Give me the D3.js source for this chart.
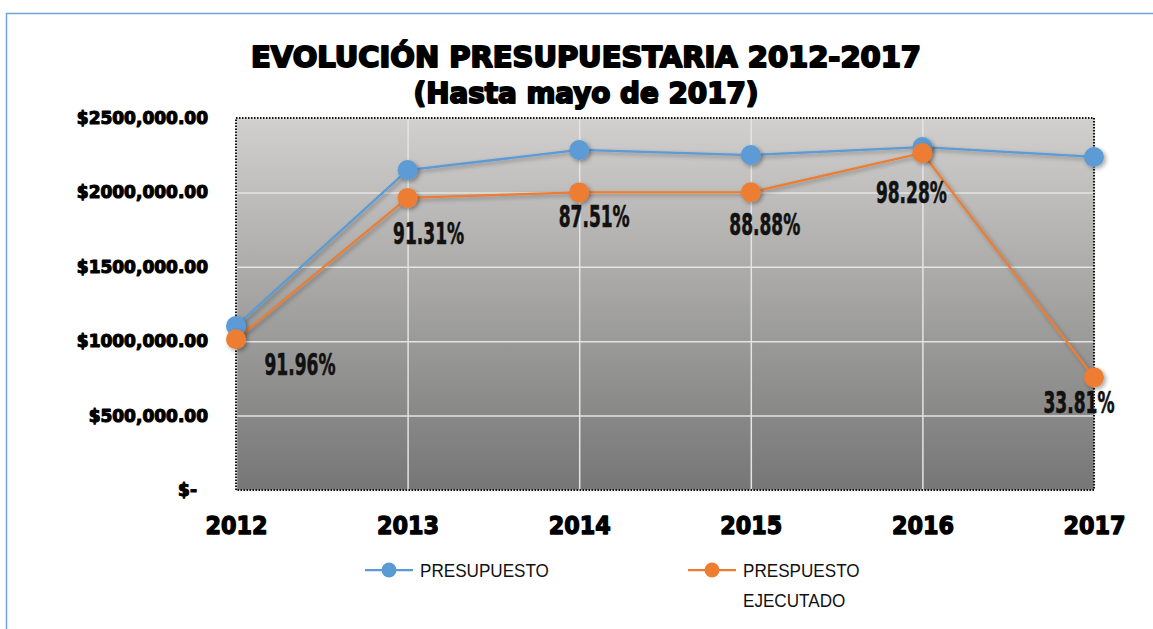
<!DOCTYPE html>
<html lang="es">
<head>
  <meta charset="UTF-8">
  <title>Evolución presupuestaria 2012-2017</title>
  <script src="https://d3js.org/d3.v7.min.js"></script>
  <style>
    body { margin: 0; background: #fff; }
    svg { display: block; }
  </style>
</head>
<body>
  <svg id="chart" width="1153" height="629"></svg>

  <script>
    // datos
    const years = ["2012", "2013", "2014", "2015", "2016", "2017"];
    const presupuesto = [1102000, 2150000, 2285000, 2251000, 2305000, 2238000];
    const ejecutado = [1013000, 1963000, 2000000, 2001000, 2265000, 757000];
    const pctLabels = ["91.96%", "91.31%", "87.51%", "88.88%", "98.28%", "33.81%"];
    const yTicks = [0, 500000, 1000000, 1500000, 2000000, 2500000];

    // desplazamiento de cada etiqueta respecto a su punto
    const labelOffsets = [[64, 25], [21, 35], [15, 24], [14, 32], [-11, 39], [-15, 25]];

    const width = 1153;
    const height = 629;
    const plot = { left: 236, right: 1094, top: 118, bottom: 490 };
    const blue = "#5b9bd5";
    const orange = "#ed7d31";
    const boldFont = "'DejaVu Sans', sans-serif";

    const svg = d3.select("#chart");
    const defs = svg.append("defs");

    const grad = defs.append("linearGradient")
      .attr("id", "bg").attr("x1", 0).attr("y1", 0).attr("x2", 0).attr("y2", 1);
    grad.append("stop").attr("offset", "0%").attr("stop-color", "#d1d0ce");
    grad.append("stop").attr("offset", "100%").attr("stop-color", "#767676");

    const shadow = defs.append("filter").attr("id", "shadow")
      .attr("x", "-50%").attr("y", "-50%").attr("width", "200%").attr("height", "200%");
    shadow.append("feDropShadow")
      .attr("dx", 2).attr("dy", 2).attr("stdDeviation", 2)
      .attr("flood-color", "#000").attr("flood-opacity", 0.35);

    // marco exterior azul
    svg.append("path")
      .attr("d", `M6.5,${height} V13.5 H${width}`)
      .attr("fill", "none").attr("stroke", "#6fa4d8").attr("stroke-width", 1.5);

    // titulo
    const title = svg.append("text")
      .attr("text-anchor", "middle")
      .attr("font-family", boldFont).attr("font-weight", "bold")
      .attr("font-size", 29).attr("fill", "#000")
      .attr("stroke", "#000").attr("stroke-width", 2).attr("stroke-linejoin", "round");
    title.append("tspan").attr("x", 586).attr("y", 67)
      .attr("textLength", 670).attr("lengthAdjust", "spacingAndGlyphs")
      .text("EVOLUCIÓN PRESUPUESTARIA 2012-2017");
    title.append("tspan").attr("x", 586).attr("y", 103)
      .attr("textLength", 345).attr("lengthAdjust", "spacingAndGlyphs")
      .text("(Hasta mayo de 2017)");

    const x = d3.scalePoint().domain(years).range([plot.left, plot.right]);
    const y = d3.scaleLinear().domain([0, 2500000]).range([plot.bottom, plot.top]);
    const plotW = plot.right - plot.left;
    const plotH = plot.bottom - plot.top;

    // fondo del area de trazado
    svg.append("rect")
      .attr("x", plot.left).attr("y", plot.top)
      .attr("width", plotW).attr("height", plotH)
      .attr("fill", "url(#bg)");

    // cuadricula
    const gridY = svg.append("g")
      .attr("transform", `translate(${plot.left},0)`)
      .call(d3.axisLeft(y).tickValues(yTicks).tickSize(-plotW).tickFormat(""));
    const gridX = svg.append("g")
      .attr("transform", `translate(0,${plot.bottom})`)
      .call(d3.axisBottom(x).tickSize(-plotH).tickFormat(""));
    [gridY, gridX].forEach(g => {
      g.select(".domain").remove();
      g.selectAll("line").attr("stroke", "#e4e4e4").attr("stroke-width", 1.5);
    });

    // borde punteado
    svg.append("rect")
      .attr("x", plot.left).attr("y", plot.top)
      .attr("width", plotW).attr("height", plotH)
      .attr("fill", "none").attr("stroke", "#111")
      .attr("stroke-width", 2).attr("stroke-dasharray", "1.5,1.5");

    // etiquetas eje Y
    const yAxis = svg.append("g")
      .attr("transform", `translate(${plot.left},0)`)
      .call(d3.axisLeft(y).tickValues(yTicks).tickSize(0).tickPadding(28)
        .tickFormat(d => d === 0 ? "$-" : `$${d / 1000},000.00`));
    yAxis.select(".domain").remove();
    yAxis.selectAll("text")
      .attr("font-family", boldFont).attr("font-weight", "bold")
      .attr("font-size", 17).attr("fill", "#000")
      .attr("stroke", "#000").attr("stroke-width", 1.1).attr("stroke-linejoin", "round")
      .attr("x", d => d === 0 ? -39 : -28);

    // etiquetas eje X
    const xAxis = svg.append("g")
      .attr("transform", `translate(0,${plot.bottom})`)
      .call(d3.axisBottom(x).tickSize(0).tickPadding(27));
    xAxis.select(".domain").remove();
    xAxis.selectAll("text")
      .attr("font-family", boldFont).attr("font-weight", "bold")
      .attr("font-size", 24).attr("fill", "#000")
      .attr("stroke", "#000").attr("stroke-width", 1.4).attr("stroke-linejoin", "round")
      .attr("textLength", 62).attr("lengthAdjust", "spacingAndGlyphs");

    // series
    const line = d3.line().x((d, i) => x(years[i])).y(d => y(d));
    const series = [
      { values: presupuesto, color: blue },
      { values: ejecutado, color: orange }
    ];

    series.forEach(s => {
      svg.append("path")
        .datum(s.values)
        .attr("d", line)
        .attr("fill", "none")
        .attr("stroke", s.color)
        .attr("stroke-width", 2.25)
        .attr("filter", "url(#shadow)");
    });

    series.forEach(s => {
      svg.append("g").selectAll("circle")
        .data(s.values)
        .join("circle")
        .attr("cx", (d, i) => x(years[i]))
        .attr("cy", d => y(d))
        .attr("r", 10)
        .attr("fill", s.color)
        .attr("filter", "url(#shadow)");
    });

    // etiquetas de porcentaje
    svg.append("g").selectAll("text")
      .data(ejecutado)
      .join("text")
      .attr("x", (d, i) => x(years[i]) + labelOffsets[i][0])
      .attr("y", (d, i) => y(d) + labelOffsets[i][1])
      .attr("dy", "0.36em")
      .attr("text-anchor", "middle")
      .attr("font-family", "'Liberation Sans Narrow', 'DejaVu Sans Condensed', sans-serif")
      .attr("font-weight", "bold")
      .attr("font-size", 30)
      .attr("fill", "#111")
      .attr("stroke", "#111").attr("stroke-width", 0.6)
      .attr("textLength", 71)
      .attr("lengthAdjust", "spacingAndGlyphs")
      .text((d, i) => pctLabels[i]);

    // leyenda
    const legendItems = [
      { lines: ["PRESUPUESTO"], color: blue, x: 365 },
      { lines: ["PRESPUESTO", "EJECUTADO"], color: orange, x: 688 }
    ];
    const legend = svg.append("g").selectAll("g")
      .data(legendItems)
      .join("g")
      .attr("transform", d => `translate(${d.x},570)`);
    legend.append("line")
      .attr("x1", 0).attr("x2", 48)
      .attr("stroke", d => d.color).attr("stroke-width", 2.25);
    legend.append("circle")
      .attr("cx", 24).attr("r", 7.5)
      .attr("fill", d => d.color);
    legend.append("text")
      .attr("font-family", "'Liberation Sans', sans-serif")
      .attr("font-size", 19).attr("fill", "#111")
      .selectAll("tspan")
      .data(d => d.lines)
      .join("tspan")
      .attr("x", 55)
      .attr("y", (d, i) => 7 + i * 30)
      .text(d => d)
      .each(function() {
        // letra tipo Calibri: mas estrecha
        const w = this.getComputedTextLength();
        d3.select(this).attr("textLength", w * 0.9).attr("lengthAdjust", "spacingAndGlyphs");
      });
  </script>
</body>
</html>
